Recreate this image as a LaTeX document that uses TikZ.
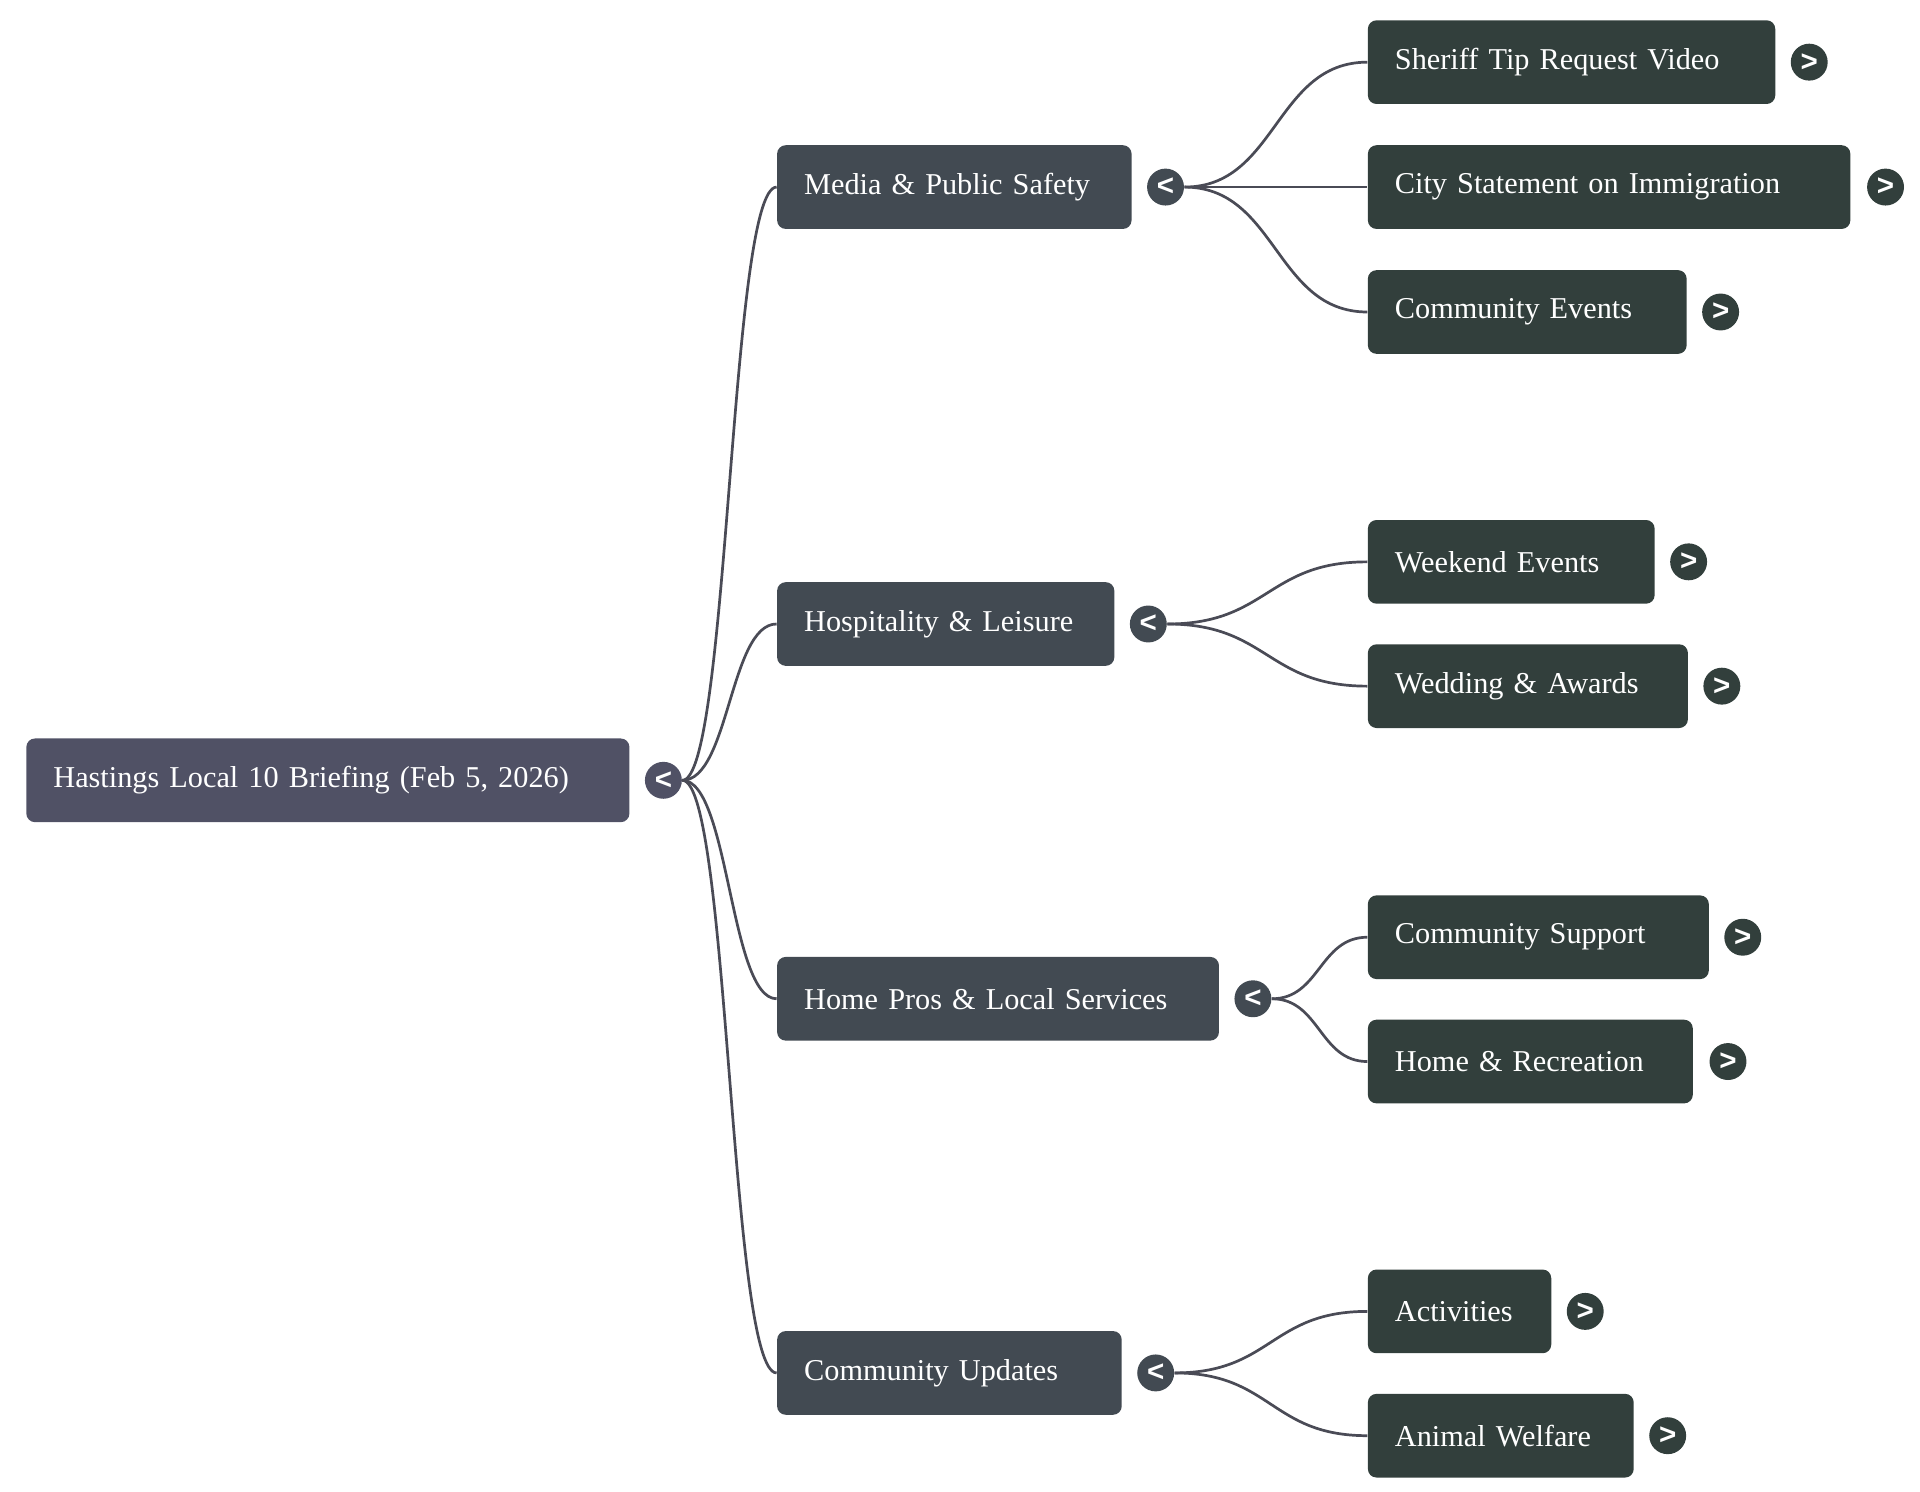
\documentclass[tikz,border=0pt]{standalone}
\usepackage{fontspec}
\setmainfont{Liberation Serif}
\newfontfamily\symfont{Liberation Sans}
\definecolor{rootc}{HTML}{505165}
\definecolor{midc}{HTML}{424A52}
\definecolor{leafc}{HTML}{323F3C}
\definecolor{linec}{HTML}{4A4B56}
\begin{document}
\begin{tikzpicture}[x=0.5pt,y=-0.5pt,
  box/.style={anchor=west, rounded corners=3.5pt, text=white, minimum height=34pt,
    inner xsep=11pt, inner ysep=0pt, align=left, font=\fontsize{12.3}{15}\selectfont},
  rootbox/.style={box, fill=rootc},
  midbox/.style={box, fill=midc},
  leafbox/.style={box, fill=leafc},
  knob/.style={circle, inner sep=0pt, minimum size=15pt, text=white,
    font=\symfont\bfseries\fontsize{12}{12}\selectfont},
  conn/.style={draw=linec, line width=1.1pt}]
\useasboundingbox (0,0) rectangle (1560,1212.25);

% root
\node[rootbox, minimum width=245pt, text width=223pt] (r) at (21,634) {Hastings Local 10 Briefing (Feb 5, 2026)};
\node[knob, fill=rootc] (rk) at (539,634) {<};

% level 1
\node[midbox, minimum width=144pt, text width=122pt] (m1) at (631,152) {Media \& Public Safety};
\node[knob, fill=midc] (m1k) at (947,152) {<};
\node[midbox, minimum width=137pt, text width=115pt] (m2) at (631,507) {Hospitality \& Leisure};
\node[knob, fill=midc] (m2k) at (933,507) {<};
\node[midbox, minimum width=179.5pt, text width=157.5pt] (m3) at (631,811.5) {Home Pros \& Local Services};
\node[knob, fill=midc] (m3k) at (1018,811.5) {<};
\node[midbox, minimum width=140pt, text width=118pt] (m4) at (631,1115.5) {Community Updates};
\node[knob, fill=midc] (m4k) at (939,1115.5) {<};

% level 2
\node[leafbox, minimum width=165.5pt, text width=143.5pt] (l1) at (1111,50.5) {Sheriff Tip Request Video};
\node[knob, fill=leafc] (l1k) at (1470,50.5) {>};
\node[leafbox, minimum width=196pt, text width=174pt] (l2) at (1111,152) {City Statement on Immigration};
\node[knob, fill=leafc] (l2k) at (1532,152) {>};
\node[leafbox, minimum width=129.5pt, text width=107.5pt] (l3) at (1111,253.5) {Community Events};
\node[knob, fill=leafc] (l3k) at (1398,253.5) {>};
\node[leafbox, minimum width=116.5pt, text width=94.5pt] (l4) at (1111,456.5) {Weekend Events};
\node[knob, fill=leafc] (l4k) at (1372,456.5) {>};
\node[leafbox, minimum width=130pt, text width=108pt] (l5) at (1111,557.5) {Wedding \& Awards};
\node[knob, fill=leafc] (l5k) at (1399,557.5) {>};
\node[leafbox, minimum width=138.5pt, text width=116.5pt] (l6) at (1111,761.5) {Community Support};
\node[knob, fill=leafc] (l6k) at (1416,761.5) {>};
\node[leafbox, minimum width=132pt, text width=110pt] (l7) at (1111,862.5) {Home \& Recreation};
\node[knob, fill=leafc] (l7k) at (1404,862.5) {>};
\node[leafbox, minimum width=74.5pt, text width=52.5pt] (l8) at (1111,1065.5) {Activities};
\node[knob, fill=leafc] (l8k) at (1288,1065.5) {>};
\node[leafbox, minimum width=108pt, text width=86pt] (l9) at (1111,1166.5) {Animal Welfare};
\node[knob, fill=leafc] (l9k) at (1355,1166.5) {>};

% connectors
\foreach \m in {m1,m2,m3,m4}
  \draw[conn] (rk.east) .. controls +(38,0) and +(-38,0) .. (\m.west);
\foreach \l in {l1,l2,l3}
  \draw[conn] (m1k.east) .. controls +(75,0) and +(-75,0) .. (\l.west);
\foreach \l in {l4,l5}
  \draw[conn] (m2k.east) .. controls +(82,0) and +(-82,0) .. (\l.west);
\foreach \l in {l6,l7}
  \draw[conn] (m3k.east) .. controls +(39,0) and +(-39,0) .. (\l.west);
\foreach \l in {l8,l9}
  \draw[conn] (m4k.east) .. controls +(79,0) and +(-79,0) .. (\l.west);
\end{tikzpicture}
\end{document}
